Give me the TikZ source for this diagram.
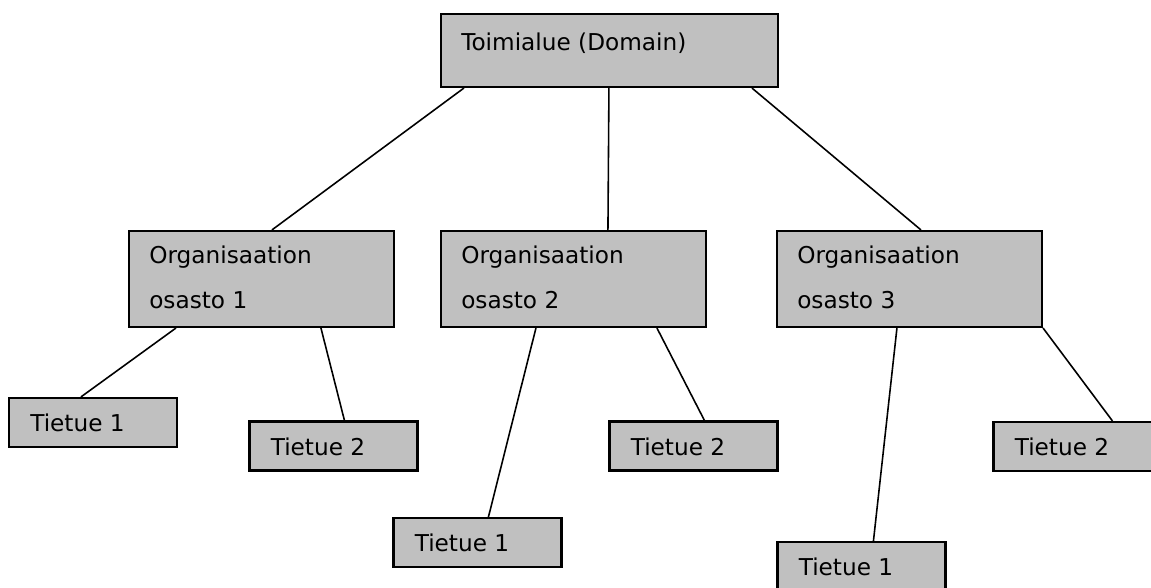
\documentclass[tikz,border=0pt]{standalone}
\usepackage{fontspec}
\setmainfont{DejaVu Sans}
\usepackage{tikz}
\usetikzlibrary{calc}
\definecolor{boxgray}{RGB}{192, 192, 192}
\tikzset{
  unit/.style = {draw, fill=boxgray, line width=1.2pt, inner sep=0pt, minimum height=1.92cm, minimum width=5.3cm},
  rec/.style = {draw, fill=boxgray, line width=1.2pt, inner sep=0pt, minimum height=0.98cm, minimum width=3.36cm},
  lbl/.style = {anchor=base west, inner sep=0pt, font=\fontsize{13.2}{16}\selectfont},
  link/.style = {line width=0.9pt}
}

\begin{document}
\begin{tikzpicture}
\useasboundingbox (0,0) rectangle (23.02, 11.76);
% boxes
\node[unit, minimum width=6.74cm, minimum height=1.46cm] (dom) at (12.19, 10.75) {};
\node[unit] (org1) at (5.23, 6.18) {};
\node[unit] (org2) at (11.47, 6.18) {};
\node[unit] (org3) at (18.19, 6.18) {};
\node[rec] (o1t1) at (1.86, 3.31) {};
\node[rec] (o1t2) at (6.67, 2.84) {};
\node[rec] (o2t1) at (9.55, 0.91) {};
\node[rec] (o2t2) at (13.87, 2.84) {};
\node[rec] (o3t1) at (17.23, 0.43) {};
\node[rec] (o3t2) at (21.55, 2.83) {};
% texts
\node[lbl] (dom-t) at ($(dom.north west)+(0.42,-0.76)$) {Toimialue (Domain)};
\foreach \o/\n in {org1/1, org2/2, org3/3} {
  \node[lbl] (\o-a) at ($(\o.north west)+(0.42,-0.68)$) {Organisaation};
  \node[lbl] (\o-b) at ($(\o.north west)+(0.42,-1.58)$) {osasto \n};
}
\foreach \r/\n in {o1t1/1, o1t2/2, o2t1/1, o2t2/2, o3t1/1, o3t2/2} {
  \node[lbl] (\r-t) at ($(\r.north west)+(0.44,-0.70)$) {Tietue \n};
}
% links
\draw[link] ($(dom.south west)+(0.48,0)$) -- ($(org1.north west)+(2.88,0)$);
\draw[link] ($(dom.south west)+(3.38,0)$) -- ($(org2.north west)+(3.36,0)$);
\draw[link] ($(dom.south west)+(6.24,0)$) -- ($(org3.north west)+(2.90,0)$);
\draw[link] ($(org1.south west)+(0.96,0)$) -- ($(o1t1.north west)+(1.46,0)$);
\draw[link] ($(org1.south west)+(3.86,0)$) -- ($(o1t2.north west)+(1.92,0)$);
\draw[link] ($(org2.south west)+(1.92,0)$) -- ($(o2t1.north west)+(1.92,0)$);
\draw[link] ($(org2.south west)+(4.34,0)$) -- ($(o2t2.north west)+(1.92,0)$);
\draw[link] ($(org3.south west)+(2.42,0)$) -- ($(o3t1.north west)+(1.94,0)$);
\draw[link] (org3.south east) -- ($(o3t2.north west)+(2.40,0)$);
\end{tikzpicture}
\end{document}
